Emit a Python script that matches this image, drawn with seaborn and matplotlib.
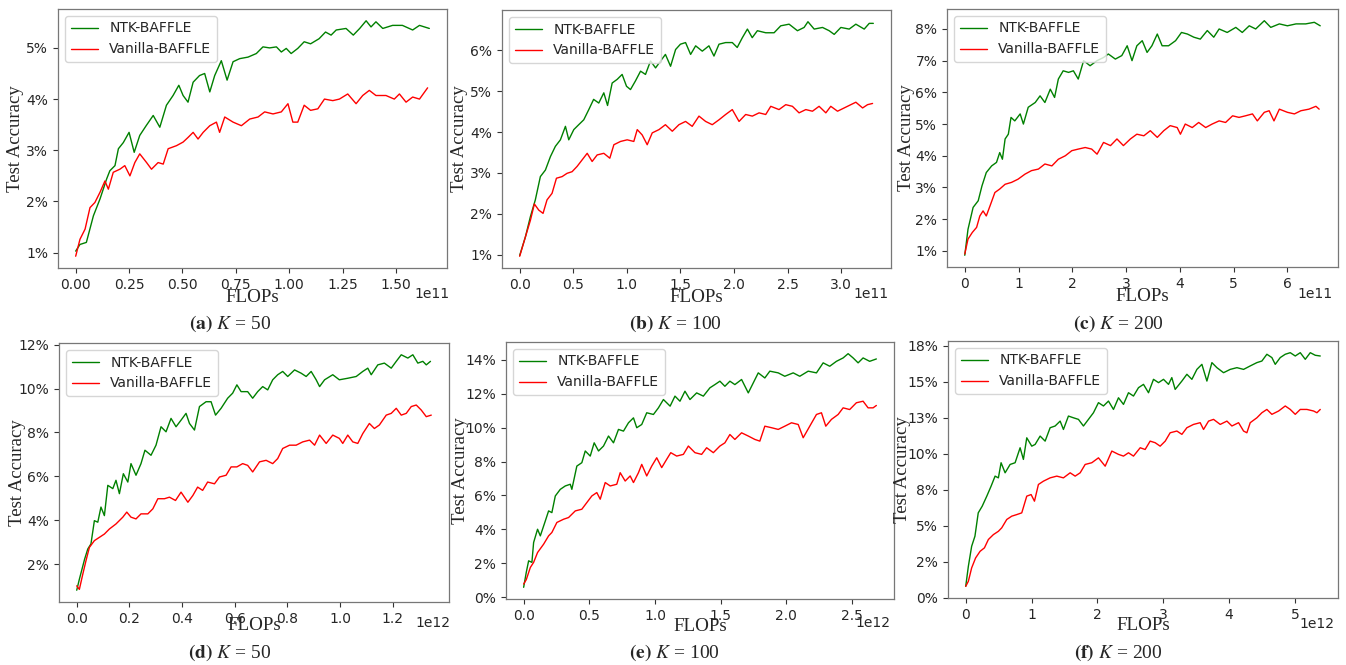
import matplotlib
matplotlib.use("Agg")
import matplotlib.pyplot as plt
import pandas as pd
import seaborn as sns

# --- data (x in units of the axis offset, y in %) ---
# (a) K=50, 1e11
a_ntk = [(0, 1.03), (0.02, 1.16), (0.05, 1.2), (0.083, 1.72), (0.114, 2.05), (0.145, 2.44), (0.16, 2.6),
         (0.184, 2.7), (0.2, 3.03), (0.223, 3.15), (0.25, 3.35), (0.274, 2.96), (0.30, 3.29), (0.33, 3.48),
         (0.363, 3.68), (0.394, 3.45), (0.425, 3.88), (0.456, 4.07), (0.483, 4.27), (0.503, 4.07), (0.526, 3.94),
         (0.55, 4.33), (0.58, 4.46), (0.604, 4.5), (0.628, 4.14), (0.651, 4.46), (0.682, 4.75), (0.709, 4.37),
         (0.737, 4.73), (0.768, 4.79), (0.807, 4.82), (0.846, 4.89), (0.877, 5.02), (0.908, 5.0), (0.94, 5.02),
         (0.963, 4.92), (0.986, 4.99), (1.009, 4.89), (1.04, 4.99), (1.07, 5.12), (1.10, 5.08), (1.14, 5.18),
         (1.17, 5.31), (1.196, 5.25), (1.22, 5.35), (1.266, 5.38), (1.30, 5.25), (1.33, 5.38), (1.36, 5.53),
         (1.383, 5.41), (1.406, 5.51), (1.438, 5.38), (1.484, 5.44), (1.53, 5.44), (1.578, 5.35), (1.61, 5.44),
         (1.656, 5.38)]
a_van = [(0, 0.93), (0.02, 1.26), (0.044, 1.46), (0.067, 1.88), (0.09, 1.98), (0.114, 2.18), (0.137, 2.4),
         (0.153, 2.24), (0.176, 2.57), (0.207, 2.63), (0.23, 2.7), (0.254, 2.5), (0.277, 2.76), (0.30, 2.93),
         (0.332, 2.76), (0.355, 2.63), (0.386, 2.76), (0.41, 2.73), (0.433, 3.03), (0.472, 3.09), (0.503, 3.16),
         (0.526, 3.25), (0.55, 3.35), (0.573, 3.22), (0.597, 3.35), (0.628, 3.48), (0.659, 3.55), (0.674, 3.35),
         (0.698, 3.65), (0.737, 3.55), (0.776, 3.48), (0.815, 3.61), (0.854, 3.65), (0.885, 3.75), (0.924, 3.71),
         (0.963, 3.75), (0.994, 3.91), (1.017, 3.55), (1.04, 3.55), (1.07, 3.88), (1.10, 3.78), (1.134, 3.81),
         (1.165, 4.0), (1.204, 3.97), (1.235, 4.0), (1.274, 4.1), (1.313, 3.91), (1.344, 4.07), (1.375, 4.17),
         (1.406, 4.07), (1.453, 4.07), (1.492, 4.0), (1.516, 4.1), (1.547, 3.94), (1.578, 4.04), (1.61, 4.0),
         (1.648, 4.22)]

# (b) K=100, 1e11
b_ntk = [(0, 0.98), (0.053, 1.43), (0.1, 1.93), (0.146, 2.34), (0.193, 2.91), (0.24, 3.07), (0.287, 3.4),
         (0.333, 3.65), (0.38, 3.81), (0.427, 4.14), (0.458, 3.81), (0.505, 4.06), (0.551, 4.18), (0.598, 4.3),
         (0.645, 4.55), (0.69, 4.8), (0.738, 4.71), (0.785, 4.96), (0.82, 4.65), (0.863, 5.2), (0.91, 5.29),
         (0.956, 5.41), (0.997, 5.12), (1.034, 5.04), (1.08, 5.25), (1.128, 5.49), (1.174, 5.41), (1.221, 5.74),
         (1.268, 5.57), (1.315, 5.74), (1.36, 5.9), (1.408, 5.61), (1.455, 6.02), (1.5, 6.15), (1.548, 6.19),
         (1.595, 5.9), (1.642, 6.11), (1.704, 5.98), (1.766, 6.11), (1.813, 5.86), (1.86, 6.15), (1.922, 6.19),
         (1.984, 6.19), (2.03, 6.07), (2.078, 6.31), (2.125, 6.52), (2.17, 6.31), (2.218, 6.48), (2.296, 6.43),
         (2.374, 6.43), (2.436, 6.6), (2.514, 6.64), (2.592, 6.48), (2.654, 6.56), (2.69, 6.7), (2.748, 6.52),
         (2.826, 6.56), (2.888, 6.48), (2.935, 6.39), (2.997, 6.56), (3.075, 6.52), (3.137, 6.64), (3.215, 6.52),
         (3.262, 6.66), (3.30, 6.66)]
b_van = [(0, 0.96), (0.053, 1.43), (0.1, 1.84), (0.137, 2.24), (0.178, 2.09), (0.218, 2.01), (0.255, 2.34),
         (0.302, 2.5), (0.343, 2.87), (0.396, 2.91), (0.442, 2.99), (0.489, 3.03), (0.536, 3.16), (0.583, 3.32),
         (0.63, 3.48), (0.676, 3.28), (0.723, 3.44), (0.785, 3.48), (0.841, 3.36), (0.879, 3.69), (0.941, 3.77),
         (1.003, 3.81), (1.065, 3.77), (1.097, 4.06), (1.143, 3.93), (1.19, 3.69), (1.237, 3.98), (1.3, 4.06),
         (1.36, 4.18), (1.424, 4.02), (1.486, 4.18), (1.548, 4.26), (1.61, 4.14), (1.673, 4.39), (1.735, 4.26),
         (1.797, 4.18), (1.86, 4.3), (1.922, 4.43), (1.984, 4.55), (2.047, 4.26), (2.109, 4.43), (2.171, 4.39),
         (2.234, 4.47), (2.296, 4.43), (2.343, 4.63), (2.42, 4.55), (2.483, 4.67), (2.545, 4.63), (2.607, 4.47),
         (2.67, 4.55), (2.732, 4.51), (2.794, 4.63), (2.857, 4.47), (2.903, 4.63), (2.966, 4.51), (3.028, 4.59),
         (3.09, 4.67), (3.137, 4.73), (3.2, 4.59), (3.246, 4.67), (3.293, 4.7)]

# (c) K=200, 1e11
c_ntk = [(0, 0.86), (0.06, 1.68), (0.155, 2.37), (0.25, 2.58), (0.32, 3.05), (0.4, 3.47), (0.5, 3.68),
         (0.59, 3.79), (0.65, 4.1), (0.7, 3.89), (0.75, 4.53), (0.81, 4.68), (0.86, 5.21), (0.93, 5.1),
         (1.03, 5.32), (1.09, 5.0), (1.18, 5.53), (1.31, 5.68), (1.4, 5.89), (1.49, 5.68), (1.59, 6.1),
         (1.67, 5.84), (1.74, 6.42), (1.83, 6.68), (1.93, 6.63), (2.02, 6.68), (2.11, 6.42), (2.21, 7.0),
         (2.33, 6.84), (2.46, 7.0), (2.58, 7.1), (2.67, 7.21), (2.8, 7.05), (2.92, 7.16), (3.02, 7.47),
         (3.11, 7.0), (3.2, 7.47), (3.3, 7.63), (3.39, 7.26), (3.48, 7.47), (3.58, 7.84), (3.67, 7.47),
         (3.79, 7.47), (3.92, 7.63), (4.03, 7.89), (4.14, 7.84), (4.26, 7.74), (4.38, 7.68), (4.51, 7.95),
         (4.63, 7.74), (4.73, 8.0), (4.88, 7.89), (5.04, 8.05), (5.16, 7.89), (5.29, 8.1), (5.41, 8.0),
         (5.57, 8.26), (5.69, 8.05), (5.85, 8.16), (6.0, 8.1), (6.16, 8.16), (6.34, 8.16), (6.5, 8.21), (6.61, 8.1)]
c_van = [(0, 0.9), (0.06, 1.37), (0.14, 1.58), (0.22, 1.74), (0.28, 2.1), (0.34, 2.26), (0.4, 2.1),
         (0.47, 2.42), (0.56, 2.84), (0.65, 2.95), (0.75, 3.1), (0.87, 3.16), (0.99, 3.26), (1.12, 3.42),
         (1.24, 3.53), (1.37, 3.58), (1.49, 3.74), (1.62, 3.68), (1.74, 3.89), (1.87, 4.0), (1.99, 4.16),
         (2.11, 4.21), (2.24, 4.26), (2.36, 4.21), (2.46, 4.05), (2.58, 4.42), (2.71, 4.32), (2.83, 4.53),
         (2.95, 4.32), (3.08, 4.53), (3.2, 4.68), (3.33, 4.63), (3.45, 4.79), (3.58, 4.58), (3.7, 4.79),
         (3.82, 4.95), (3.95, 4.89), (4.01, 4.68), (4.1, 5.0), (4.23, 4.89), (4.35, 5.05), (4.48, 4.89),
         (4.6, 5.0), (4.73, 5.1), (4.85, 5.05), (4.98, 5.26), (5.1, 5.21), (5.22, 5.26), (5.35, 5.32),
         (5.44, 5.1), (5.57, 5.37), (5.66, 5.42), (5.75, 5.1), (5.85, 5.47), (6.0, 5.37), (6.13, 5.32),
         (6.25, 5.42), (6.4, 5.47), (6.53, 5.56), (6.59, 5.47)]

# (d) K=50, 1e12
d_ntk = [(0, 0.81), (0.01, 1.31), (0.03, 2.23), (0.042, 2.69), (0.054, 2.92), (0.067, 3.98), (0.08, 3.91),
         (0.092, 4.6), (0.105, 4.21), (0.118, 5.59), (0.137, 5.44), (0.149, 5.82), (0.162, 5.21), (0.177, 6.12),
         (0.194, 5.74), (0.206, 6.58), (0.225, 6.05), (0.244, 6.58), (0.259, 7.19), (0.282, 6.96), (0.301, 7.42),
         (0.32, 8.26), (0.339, 8.03), (0.358, 8.64), (0.377, 8.26), (0.396, 8.56), (0.415, 8.87), (0.428, 8.41),
         (0.447, 8.11), (0.466, 9.18), (0.491, 9.4), (0.51, 9.4), (0.527, 8.79), (0.548, 9.1), (0.573, 9.56),
         (0.592, 9.79), (0.608, 10.17), (0.624, 9.86), (0.649, 9.86), (0.668, 9.56), (0.687, 9.86),
         (0.706, 10.09), (0.725, 9.94), (0.744, 10.4), (0.763, 10.63), (0.782, 10.78), (0.801, 10.55),
         (0.827, 10.85), (0.852, 10.7), (0.871, 10.55), (0.89, 10.78), (0.909, 10.4), (0.922, 10.09),
         (0.941, 10.4), (0.972, 10.63), (0.997, 10.4), (1.029, 10.47), (1.061, 10.55), (1.086, 10.78),
         (1.105, 10.93), (1.118, 10.63), (1.143, 11.08), (1.168, 11.16), (1.194, 10.93), (1.213, 11.24),
         (1.232, 11.54), (1.257, 11.39), (1.276, 11.54), (1.295, 11.16), (1.314, 11.24), (1.327, 11.08),
         (1.343, 11.24)]
d_van = [(0, 1.01), (0.01, 0.85), (0.023, 1.54), (0.035, 2.15), (0.048, 2.76), (0.067, 3.07), (0.086, 3.22),
         (0.105, 3.37), (0.124, 3.6), (0.149, 3.83), (0.175, 4.14), (0.19, 4.37), (0.206, 4.14), (0.225, 4.06),
         (0.244, 4.29), (0.27, 4.29), (0.289, 4.52), (0.308, 4.98), (0.333, 4.98), (0.352, 5.05), (0.375, 4.9),
         (0.396, 5.28), (0.422, 4.82), (0.441, 5.13), (0.459, 5.51), (0.478, 5.36), (0.497, 5.74), (0.523, 5.66),
         (0.542, 5.97), (0.567, 6.05), (0.586, 6.43), (0.608, 6.43), (0.63, 6.58), (0.649, 6.5), (0.668, 6.2),
         (0.694, 6.66), (0.719, 6.73), (0.744, 6.58), (0.763, 6.81), (0.782, 7.27), (0.808, 7.42), (0.833, 7.42),
         (0.858, 7.57), (0.884, 7.65), (0.903, 7.42), (0.922, 7.88), (0.947, 7.5), (0.972, 7.88), (0.997, 7.73),
         (1.01, 7.5), (1.029, 7.88), (1.048, 7.57), (1.067, 7.5), (1.086, 7.95), (1.111, 8.41), (1.13, 8.18),
         (1.149, 8.34), (1.175, 8.79), (1.194, 8.87), (1.213, 9.1), (1.232, 8.79), (1.251, 8.87), (1.27, 9.18),
         (1.289, 9.25), (1.308, 9.02), (1.327, 8.72), (1.346, 8.79)]

# (e) K=100, 1e12
e_ntk = [(0, 0.59), (0.02, 1.47), (0.038, 2.15), (0.063, 2.06), (0.076, 3.23), (0.106, 4.01), (0.127, 3.62),
         (0.165, 4.5), (0.19, 5.09), (0.215, 4.99), (0.241, 5.97), (0.279, 6.36), (0.317, 6.56), (0.355, 6.66),
         (0.367, 6.36), (0.405, 7.73), (0.443, 7.93), (0.469, 8.62), (0.507, 8.32), (0.537, 9.1), (0.57, 8.62),
         (0.608, 8.91), (0.646, 9.5), (0.684, 9.1), (0.722, 9.89), (0.76, 9.79), (0.798, 10.28), (0.836, 10.57),
         (0.861, 9.99), (0.899, 10.18), (0.937, 10.87), (0.988, 10.77), (1.026, 11.16), (1.064, 11.65),
         (1.115, 11.26), (1.152, 11.85), (1.19, 11.55), (1.228, 12.14), (1.266, 11.65), (1.317, 12.04),
         (1.368, 11.85), (1.418, 12.34), (1.456, 12.53), (1.494, 12.73), (1.532, 12.43), (1.57, 12.73),
         (1.608, 12.53), (1.659, 12.83), (1.71, 12.04), (1.748, 12.63), (1.786, 13.22), (1.836, 12.92),
         (1.874, 13.32), (1.938, 13.22), (1.988, 13.02), (2.052, 13.22), (2.102, 13.02), (2.166, 13.32),
         (2.229, 13.22), (2.28, 13.81), (2.33, 13.61), (2.381, 13.9), (2.432, 14.1), (2.47, 14.35),
         (2.508, 14.1), (2.546, 13.81), (2.584, 14.1), (2.634, 13.9), (2.685, 14.04)]
e_van = [(0, 0.78), (0.02, 1.04), (0.051, 1.76), (0.076, 2.06), (0.106, 2.64), (0.152, 3.13), (0.19, 3.62),
         (0.215, 3.82), (0.253, 4.41), (0.304, 4.6), (0.342, 4.7), (0.393, 5.09), (0.443, 5.19), (0.481, 5.58),
         (0.519, 5.97), (0.557, 6.17), (0.583, 5.78), (0.621, 6.76), (0.659, 6.56), (0.709, 6.66), (0.735, 7.34),
         (0.773, 6.85), (0.811, 7.15), (0.836, 6.76), (0.874, 7.34), (0.899, 7.83), (0.937, 7.15), (0.975, 7.73),
         (1.013, 8.22), (1.051, 7.64), (1.089, 8.13), (1.12, 8.52), (1.165, 8.32), (1.216, 8.42), (1.254, 8.91),
         (1.304, 8.52), (1.355, 8.42), (1.393, 8.81), (1.444, 8.52), (1.494, 8.91), (1.532, 9.1), (1.57, 9.59),
         (1.608, 9.3), (1.659, 9.69), (1.71, 9.5), (1.76, 9.3), (1.798, 9.2), (1.836, 10.08), (1.887, 9.99),
         (1.938, 9.89), (1.988, 10.08), (2.039, 10.28), (2.09, 10.18), (2.128, 9.4), (2.178, 10.08),
         (2.229, 10.77), (2.267, 10.87), (2.3, 10.08), (2.343, 10.48), (2.394, 10.77), (2.432, 11.16),
         (2.482, 11.06), (2.533, 11.46), (2.584, 11.55), (2.622, 11.16), (2.66, 11.16), (2.685, 11.3)]

# (f) K=200, 1e12
f_ntk = [(0, 0.81), (0.04, 2.2), (0.09, 3.59), (0.14, 4.29), (0.19, 5.91), (0.25, 6.37), (0.32, 7.07),
         (0.385, 7.76), (0.446, 8.46), (0.496, 8.34), (0.537, 9.39), (0.598, 8.69), (0.674, 9.27), (0.75, 9.39),
         (0.826, 10.43), (0.876, 9.62), (0.927, 11.12), (1.003, 10.54), (1.054, 10.66), (1.13, 11.24),
         (1.206, 10.89), (1.282, 11.82), (1.358, 11.94), (1.434, 12.28), (1.484, 11.7), (1.56, 12.63),
         (1.636, 12.51), (1.712, 12.4), (1.788, 11.94), (1.864, 12.4), (1.94, 12.86), (2.016, 13.56),
         (2.092, 13.33), (2.168, 13.67), (2.244, 13.09), (2.32, 13.9), (2.396, 13.44), (2.472, 14.25),
         (2.548, 14.02), (2.624, 14.6), (2.7, 14.83), (2.776, 14.25), (2.852, 15.18), (2.928, 14.95),
         (3.004, 15.18), (3.08, 14.83), (3.13, 15.3), (3.181, 14.48), (3.283, 15.06), (3.359, 15.53),
         (3.435, 15.18), (3.511, 15.87), (3.587, 16.22), (3.663, 15.06), (3.739, 16.34), (3.815, 15.99),
         (3.916, 15.64), (4.017, 15.87), (4.119, 15.99), (4.22, 15.87), (4.321, 16.11), (4.422, 16.34),
         (4.498, 16.45), (4.574, 16.92), (4.65, 16.69), (4.701, 16.22), (4.777, 16.69), (4.853, 16.92),
         (4.929, 17.03), (5.005, 16.8), (5.081, 17.03), (5.157, 16.57), (5.233, 17.03), (5.309, 16.85),
         (5.385, 16.8)]
f_van = [(0, 0.81), (0.04, 1.16), (0.09, 2.09), (0.15, 2.78), (0.218, 3.24), (0.284, 3.48), (0.344, 4.06),
         (0.42, 4.4), (0.496, 4.63), (0.547, 4.87), (0.623, 5.45), (0.699, 5.68), (0.775, 5.79), (0.851, 5.91),
         (0.927, 7.07), (0.993, 7.18), (1.044, 6.72), (1.104, 7.88), (1.18, 8.11), (1.282, 8.34), (1.383, 8.46),
         (1.484, 8.34), (1.586, 8.69), (1.662, 8.46), (1.738, 8.69), (1.814, 9.27), (1.915, 9.39), (2.016, 9.73),
         (2.118, 9.15), (2.219, 10.2), (2.32, 9.97), (2.396, 9.85), (2.472, 10.08), (2.548, 9.85), (2.65, 10.43),
         (2.725, 10.31), (2.801, 10.89), (2.877, 10.78), (2.953, 10.54), (3.03, 10.89), (3.105, 11.47),
         (3.207, 11.59), (3.283, 11.36), (3.359, 11.82), (3.46, 12.05), (3.561, 12.17), (3.612, 11.7),
         (3.688, 12.28), (3.764, 12.4), (3.865, 12.05), (3.967, 12.28), (4.043, 11.94), (4.144, 12.17),
         (4.22, 11.59), (4.27, 11.47), (4.321, 12.17), (4.422, 12.51), (4.498, 12.86), (4.574, 13.09),
         (4.65, 12.75), (4.752, 12.98), (4.853, 13.33), (4.929, 13.09), (5.005, 12.75), (5.081, 13.09),
         (5.182, 13.09), (5.284, 12.98), (5.334, 12.86), (5.385, 13.09)]

x_scale = [1e11, 1e11, 1e11, 1e12, 1e12, 1e12]
x_offset_labels = ["1e11", "1e11", "1e11", "1e12", "1e12", "1e12"]
x_ticks = [[0, 0.25, 0.5, 0.75, 1.0, 1.25, 1.5], [0, 0.5, 1.0, 1.5, 2.0, 2.5, 3.0],
           [0, 1, 2, 3, 4, 5, 6], [0, 0.2, 0.4, 0.6, 0.8, 1.0, 1.2],
           [0, 0.5, 1.0, 1.5, 2.0, 2.5], [0, 1, 2, 3, 4, 5]]
x_labels = [["0.00", "0.25", "0.50", "0.75", "1.00", "1.25", "1.50"],
            ["0.0", "0.5", "1.0", "1.5", "2.0", "2.5", "3.0"],
            ["0", "1", "2", "3", "4", "5", "6"],
            ["0.0", "0.2", "0.4", "0.6", "0.8", "1.0", "1.2"],
            ["0.0", "0.5", "1.0", "1.5", "2.0", "2.5"],
            ["0", "1", "2", "3", "4", "5"]]
y_ticks = [[1, 2, 3, 4, 5], [1, 2, 3, 4, 5, 6], [1, 2, 3, 4, 5, 6, 7, 8],
           [2, 4, 6, 8, 10, 12], [0, 2, 4, 6, 8, 10, 12, 14],
           [0, 2.5, 5, 7.5, 10, 12.5, 15, 17.5]]
y_labels = [["1%", "2%", "3%", "4%", "5%"], ["1%", "2%", "3%", "4%", "5%", "6%"],
            ["1%", "2%", "3%", "4%", "5%", "6%", "7%", "8%"],
            ["2%", "4%", "6%", "8%", "10%", "12%"],
            ["0%", "2%", "4%", "6%", "8%", "10%", "12%", "14%"],
            ["0%", "2%", "5%", "8%", "10%", "13%", "15%", "18%"]]
panel_tags = ["a", "b", "c", "d", "e", "f"]
panel_k = [50, 100, 200, 50, 100, 200]
series = [(a_ntk, a_van), (b_ntk, b_van), (c_ntk, c_van),
          (d_ntk, d_van), (e_ntk, e_van), (f_ntk, f_van)]

sns.set_style("ticks")
plt.rcParams["font.family"] = ["DejaVu Sans"]
plt.rcParams["mathtext.fontset"] = "stix"

W, H = 1346, 665
fig = plt.figure(figsize=(W / 100, H / 100), dpi=100)

# axes boxes in pixels: left, top, right, bottom
boxes = [(58, 9, 447, 268), (502, 10, 891, 268), (947, 9, 1338, 267),
         (59, 343, 449, 602), (506, 342, 894, 599), (948, 341, 1338, 598)]
ylab_x = [-0.088, -0.088, -0.082, -0.085, -0.095, -0.094]
xlab_y = [-0.081, -0.081, -0.081, -0.058, -0.074, -0.074]
off_xy = [(1.007, -0.072), (0.995, -0.072), (0.987, -0.077),
          (1.003, -0.054), (0.992, -0.066), (0.99, -0.072)]
cap_xy = [(230, 324), (675, 324), (1118, 324), (230, 653), (674, 653), (1118, 653)]

for i, (ntk, van) in enumerate(series):
    l, t, r, b = boxes[i]
    ax = fig.add_axes([l / W, 1 - b / H, (r - l) / W, (b - t) / H])
    s = x_scale[i]
    df_n = pd.DataFrame(ntk, columns=["x", "y"])
    df_v = pd.DataFrame(van, columns=["x", "y"])
    df_n["x"] *= s
    df_v["x"] *= s
    sns.lineplot(data=df_n, x="x", y="y", color="green", linewidth=1.0, label="NTK-BAFFLE", ax=ax)
    sns.lineplot(data=df_v, x="x", y="y", color="red", linewidth=1.0, label="Vanilla-BAFFLE", ax=ax)

    ax.set_xticks([v * s for v in x_ticks[i]])
    ax.set_xticklabels(x_labels[i])
    ax.set_yticks(y_ticks[i])
    ax.set_yticklabels(y_labels[i])
    ax.tick_params(labelsize=10, length=3.5, width=0.8, color="#333333")
    for sp in ax.spines.values():
        sp.set_color("#777777")
        sp.set_linewidth(0.9)

    # scale marker like matplotlib's offset text
    ox, oy = off_xy[i]
    ax.text(ox, oy, x_offset_labels[i], transform=ax.transAxes, ha="right", va="top", fontsize=10)

    ax.set_xlabel("FLOPs", family="Liberation Serif", fontsize=13.7)
    ax.set_ylabel("Test Accuracy", family="Liberation Serif", fontsize=13.5)
    ax.xaxis.set_label_coords(0.5, xlab_y[i])
    ax.yaxis.set_label_coords(ylab_x[i], 0.5)
    ax.legend(loc="upper left", fontsize=10, frameon=True)

    cx, cy = cap_xy[i]
    fig.text(cx / W, 1 - cy / H, r"$\mathbf{(%s)}$ $K$ = %d" % (panel_tags[i], panel_k[i]),
             family="Liberation Serif", fontsize=14, ha="center", va="center")

fig.savefig("out.png", dpi=100)
